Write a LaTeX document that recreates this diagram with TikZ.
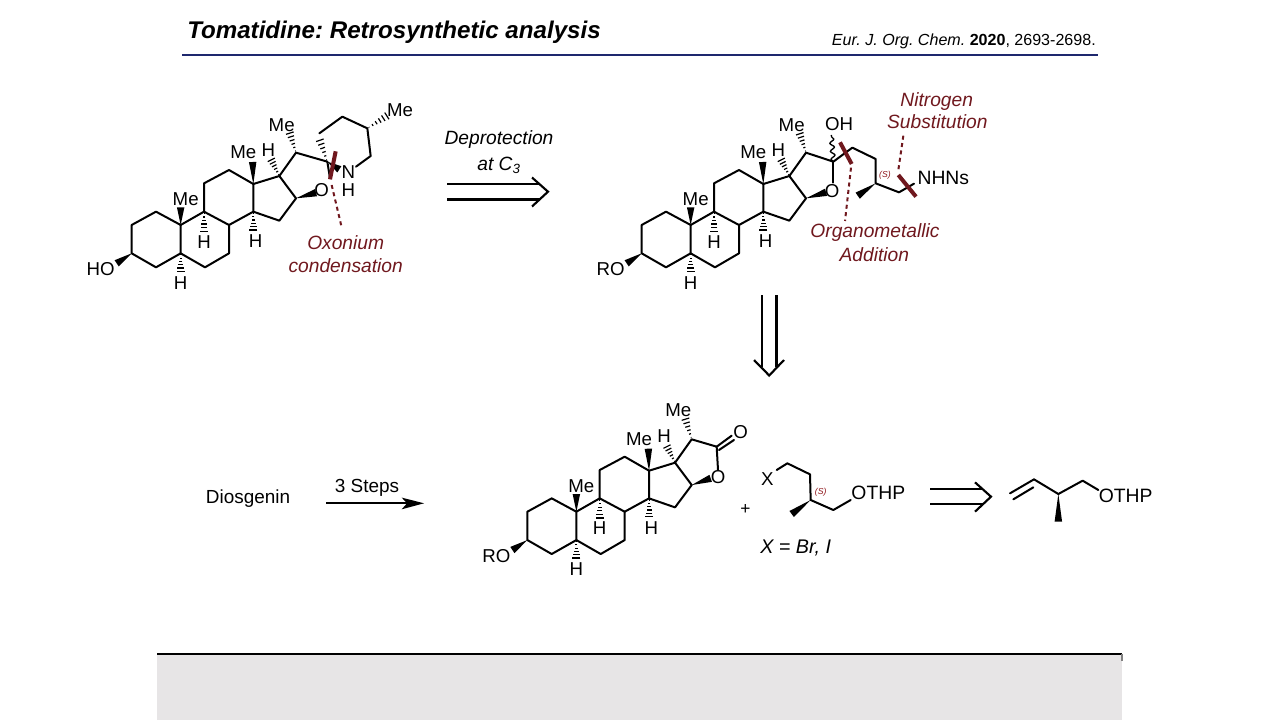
\documentclass[tikz,border=0pt]{standalone}
\usepackage{fontspec}
\setmainfont{Liberation Sans}
\usetikzlibrary{calc,decorations.pathmorphing}
\definecolor{maroon}{RGB}{112,24,30}
\definecolor{navyline}{RGB}{30,40,110}
\definecolor{panelgray}{RGB}{231,229,230}
\tikzset{
  bond/.style={line width=1.5pt,line join=round,line cap=round},
  atom/.style={font=\fontsize{14}{16}\selectfont,inner sep=0pt},
  group/.style={font=\fontsize{14.5}{16}\selectfont,inner sep=0pt},
  note/.style={font=\fontsize{14.4}{16}\selectfont\itshape,inner sep=0pt,text=maroon},
  plain/.style={font=\fontsize{14.2}{16}\selectfont,inner sep=0pt},
  slanted/.style={font=\fontsize{14.4}{16}\selectfont\itshape,inner sep=0pt},
  cutmark/.style={line width=3pt,maroon},
  cutdash/.style={line width=1.5pt,maroon,dash pattern=on 3pt off 2.6pt},
  stereo/.style={font=\fontsize{6.5}{8}\selectfont\itshape,inner sep=0pt,text=maroon!80!red},
  retro/.style={line width=1.6pt}
}
% solid and hashed stereo bonds between two named points
\newcommand{\wedgebond}[2]{\fill ($(#2)!2.8pt!90:(#1)$) -- (#1) -- ($(#2)!2.8pt!-90:(#1)$) -- cycle;}
\newcommand{\hashbond}[2]{
  \foreach \t in {0.08,0.25,0.42,0.59,0.76,0.93}
    \draw[line width=0.9pt] ($(#1)!\t!(#2)!{\t*3.2pt}!90:(#2)$) -- ($(#1)!\t!(#2)!{\t*3.2pt}!-90:(#2)$);
}
% the four rings, #1 = prefix of the names, #2 = group on C3
\newcommand{\steroidcore}[2]{
  \foreach \c/\x/\y in {c1/228/365,c2/155/405,c3/155/490,c4/228/532,c5/302/490,c6/375/532,c7/447/490,
    c8/447/405,c9/372/365,c10/302/405,c11/372/280,c12/447/240,c13/520/282,c14/520/365,c15/598/392,
    c16/648/325,c17/598/258}
    \coordinate (#1\c) at (\x,\y);
  \coordinate (#1o3) at (110,520);
  \coordinate (#1me10) at (302,352);
  \coordinate (#1me13) at (518,216);
  \coordinate (#1h5) at (302,548);
  \coordinate (#1h9) at (372,428);
  \coordinate (#1h14) at (520,424);
  \coordinate (#1h17) at (572,206);
  \draw[bond] (#1c3) -- (#1c2) -- (#1c1) -- (#1c10) -- (#1c5) -- (#1c4) -- cycle;
  \draw[bond] (#1c10) -- (#1c9) -- (#1c8) -- (#1c7) -- (#1c6) -- (#1c5);
  \draw[bond] (#1c9) -- (#1c11) -- (#1c12) -- (#1c13) -- (#1c14) -- (#1c8);
  \draw[bond] (#1c13) -- (#1c17) -- (#1c16) -- (#1c15) -- (#1c14);
  \wedgebond{#1c3}{#1o3}
  \wedgebond{#1c10}{#1me10}
  \wedgebond{#1c13}{#1me13}
  \hashbond{#1c5}{#1h5}
  \hashbond{#1c9}{#1h9}
  \hashbond{#1c14}{#1h14}
  \hashbond{#1c17}{#1h17}
  \node[atom] (#1lo3) at (62,537) {#2};
  \node[atom] (#1lme10) at (317,327) {Me};
  \node[atom] (#1lme13) at (490,186) {Me};
  \node[atom] (#1lh5) at (302,578) {H};
  \node[atom] (#1lh9) at (372,455) {H};
  \node[atom] (#1lh14) at (527,453) {H};
  \node[atom] (#1lh17) at (565,179) {H};
}
\begin{document}
\frenchspacing
\begin{tikzpicture}[x=0.75pt,y=-0.75pt]
  \useasboundingbox (0,0) rectangle (1280,720);

  % Header
  \node[anchor=west,inner sep=0pt,font=\fontsize{18.1}{20}\selectfont\bfseries\itshape] (title) at (187,32) {Tomatidine: Retrosynthetic analysis};
  \node[anchor=east,inner sep=0pt,font=\fontsize{12.05}{13}\selectfont] (cite) at (1096,41) {\textit{Eur. J. Org. Chem.} \textbf{2020}, 2693-2698.};
  \draw[navyline,line width=1.5pt] (182,55) -- (1098,55);

  % Bottom panel
  \fill[panelgray] (157,654) rectangle (1122,720);
  \draw[line width=2pt] (157,654) -- (1122,654);
  \draw[gray,line width=0.8pt] (1122,654) -- (1122,661);

  % Tomatidine
  \begin{scope}[shift={(80,90)},x=0.25pt,y=-0.25pt]
    \steroidcore{a}{HO}
    \coordinate (ac20) at (648,188);
    \coordinate (ac22) at (742,215);
    \coordinate (aox) at (708,308);
    \coordinate (ame20) at (628,125);
    \coordinate (ac23) at (718,130);
    \coordinate (ac23h) at (718,146);
    \coordinate (ac24) at (787,80);
    \coordinate (ac25) at (862,115);
    \coordinate (ac26) at (872,198);
    \coordinate (an) at (828,230);
    \coordinate (anw) at (778,238);
    \coordinate (ame25) at (925,75);
    \draw[bond] (ac17) -- (ac20) -- (ac22) -- (750,265);
    \draw[bond] (ac23) -- (ac24) -- (ac25) -- (ac26) -- (an);
    \wedgebond{ac16}{aox}
    \wedgebond{ac22}{anw}
    \hashbond{ac20}{ame20}
    \hashbond{ac22}{ac23h}
    \hashbond{ac25}{ame25}
    \node[atom] (alme20) at (605,105) {Me};
    \node[atom] (alme25) at (960,62) {Me};
    \node[atom] (alo) at (725,301) {O};
    \node[atom] (aln) at (805,246) {N};
    \node[atom] (alh) at (805,300) {H};
    \draw[cutmark] (767,184) -- (750,268);
    \draw[cutdash] (755,285) -- (785,412);
    \node[note] (oxonium) at (797,458) {Oxonium};
    \node[note] (condens) at (797,526) {condensation};
  \end{scope}

  % Deprotection arrow
  \node[slanted] (deprot) at (499,140) {Deprotection};
  \node[slanted] (atc) at (499,165) {at C\textsubscript{3}};
  \coordinate (ra1) at (447,184);
  \coordinate (ra2) at (447,199.5);
  \coordinate (ratip) at (548,191.7);
  \draw[retro] (ra1) -- (540,184);
  \draw[retro] (ra2) -- (540,199.5);
  \draw[retro,line join=miter] (532,177.5) -- (ratip) -- (532,206.5);

  % Open chain hemiketal
  \begin{scope}[shift={(590,90)},x=0.25pt,y=-0.25pt]
    \steroidcore{b}{RO}
  \end{scope}
  \begin{scope}[shift={(590,85)},x=0.25pt,y=-0.25pt]
    \coordinate (bc20) at (648,203);
    \coordinate (bc22) at (730,230);
    \coordinate (bc23) at (787,188);
    \coordinate (bc24) at (857,222);
    \coordinate (bc25) at (857,295);
    \coordinate (bc26) at (927,322);
    \coordinate (bnh) at (972,296);
    \coordinate (bme) at (803,332);
    \coordinate (boh) at (724,150);
    \coordinate (bo) at (730,293);
    \coordinate (box) at (708,322);
    \coordinate (bme20) at (628,142);
    \draw[bond] (bc17) -- (bc20) -- (bc22) -- (bc23) -- (bc24) -- (bc25) -- (bc26) -- (bnh);
    \draw[bond] (bc22) -- (bo);
    \draw[line width=1pt,decorate,decoration={snake,amplitude=1.6pt,segment length=6pt}] (bc22) -- (boh);
    \wedgebond{bc16}{box}
    \wedgebond{bc25}{bme}
    \hashbond{bc20}{bme20}
    \node[atom] (blme20) at (605,120) {Me};
    \node[atom] (bloh) at (747,118) {OH};
    \node[atom] (blo) at (726,317) {O};
    \node[group] (blnh) at (1060,280) {NHNs};
    \node[stereo] (bls) at (885,272) {(S)};
    \draw[cutmark] (750,172) -- (785,237);
    \draw[cutmark] (925,270) -- (978,335);
    \draw[cutdash] (783,248) -- (765,408);
    \draw[cutdash] (940,152) -- (925,255);
    \node[note] (nitro) at (1040,50) {Nitrogen};
    \node[note] (subst) at (1042,111) {Substitution};
    \node[note] (organo) at (855,443) {Organometallic};
    \node[note] (addit) at (853,510) {Addition};
  \end{scope}

  % Vertical retro arrow
  \coordinate (rb1) at (761.7,295);
  \coordinate (rb2) at (776.5,295);
  \coordinate (rbtip) at (769.2,375.5);
  \draw[retro] (rb1) -- (761.7,367);
  \draw[retro] (rb2) -- (776.5,367);
  \draw[retro,line join=miter] (754,360) -- (rbtip) -- (784,360);

  % Diosgenin and the arrow
  \node[plain] (dios) at (248,499) {Diosgenin};
  \node[plain] (steps) at (367,488) {3 Steps};
  \coordinate (sa) at (326,503.3);
  \coordinate (sb) at (424,503.3);
  \draw[line width=1.5pt] (sa) -- (408,503.3);
  \fill (sb) -- (401.7,497.6) -- (407,503.3) -- (401.7,509.3) -- cycle;

  % Lactone
  \begin{scope}[shift={(475.7,376.7)},x=0.25pt,y=-0.25pt]
    \steroidcore{c}{RO}
  \end{scope}
  \begin{scope}[shift={(470,395)},x=0.25pt,y=-0.25pt]
    \coordinate (cc20) at (665,133);
    \coordinate (cc22) at (740,155);
    \coordinate (co) at (744,225);
    \coordinate (cox) at (722,250);
    \coordinate (cme) at (645,68);
    \draw[bond] (cc17) -- (cc20) -- (cc22) -- (co);
    \draw[bond] (cc22) -- (785,122);
    \draw[bond] (747,165) -- (792,135);
    \wedgebond{cc16}{cox}
    \hashbond{cc20}{cme}
    \node[atom] (clme) at (625,47) {Me};
    \node[atom] (clo) at (744,245) {O};
    \node[atom] (clco) at (812,112) {O};
    \node[font=\fontsize{13}{15}\selectfont,inner sep=0pt] (plus) at (826,343) {+};
  \end{scope}

  % Side chain and the alkene
  \begin{scope}[shift={(730,440)},x=0.25pt,y=-0.25pt]
    \coordinate (d1) at (140,90);
    \coordinate (d2) at (172,70);
    \coordinate (d3) at (240,103);
    \coordinate (d4) at (242,180);
    \coordinate (d5) at (310,210);
    \coordinate (d6) at (362,180);
    \coordinate (d7) at (185,222);
    \draw[bond] (d1) -- (d2) -- (d3) -- (d4) -- (d5) -- (d6);
    \wedgebond{d4}{d7}
    \node[atom] (dlx) at (112,116) {X};
    \node[group] (dlthp) at (445,160) {OTHP};
    \node[stereo] (dls) at (272,157) {(S)};
    \node[slanted,font=\fontsize{14.8}{16}\selectfont\itshape] (dxeq) at (197,325) {X = Br, I};
    \coordinate (ea) at (600,148);
    \coordinate (eb) at (600,193);
    \coordinate (etip) at (783,170);
    \draw[retro] (ea) -- (758,148);
    \draw[retro] (eb) -- (758,193);
    \draw[retro,line join=miter] (735,127) -- (etip) -- (735,215);
    \coordinate (e1) at (840,160);
    \coordinate (e2) at (912,118);
    \coordinate (e3) at (985,162);
    \coordinate (e4) at (1058,122);
    \coordinate (e5) at (1105,150);
    \coordinate (e6) at (985,245);
    \draw[bond] (e1) -- (e2) -- (e3) -- (e4) -- (e5);
    \draw[bond] (850,178) -- (910,142);
    \wedgebond{e3}{e6}
    \node[group] (elthp) at (1187,168) {OTHP};
  \end{scope}
\end{tikzpicture}
\end{document}
